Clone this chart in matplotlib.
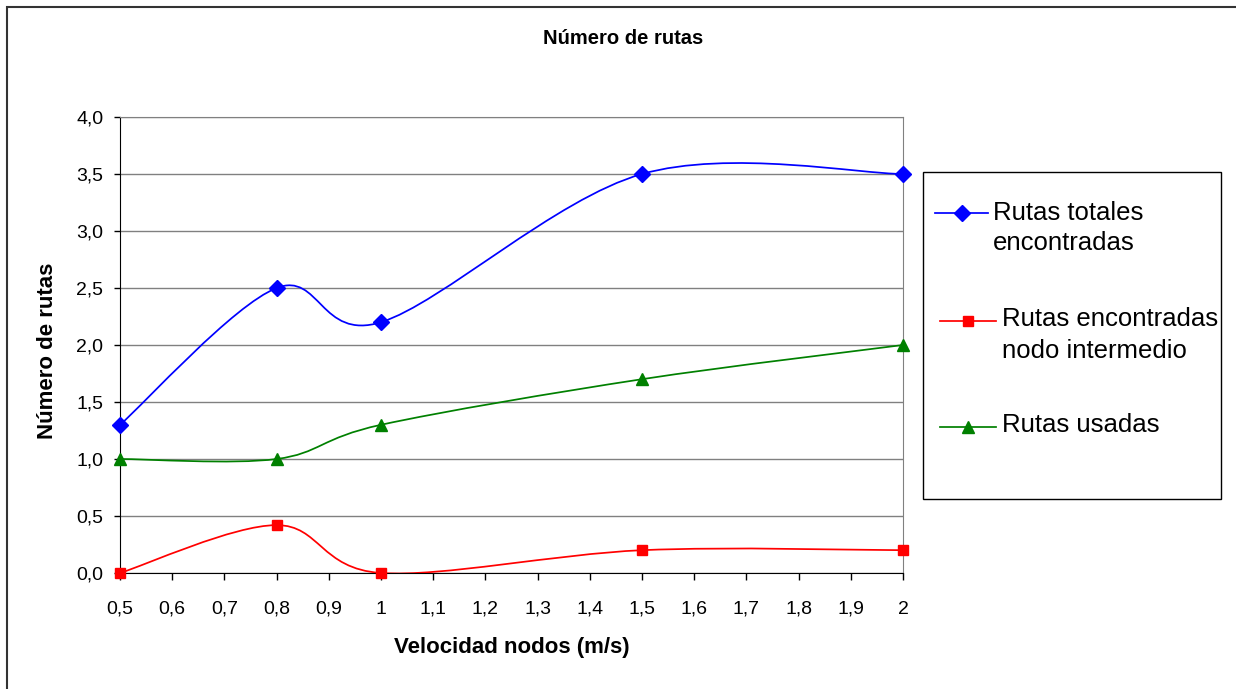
import numpy as np
import matplotlib
matplotlib.use('Agg')
import matplotlib.pyplot as plt
from matplotlib.path import Path
from matplotlib.patches import PathPatch, Rectangle
from matplotlib.lines import Line2D

plt.rcParams.update({
    'font.family': 'Liberation Sans',
    'font.size': 13,
})

# data
velocidad = [0.5, 0.8, 1.0, 1.5, 2.0]
rutas_totales = [1.3, 2.5, 2.2, 3.5, 3.5]
rutas_intermedio = [0.0, 0.42, 0.0, 0.2, 0.2]
rutas_usadas = [1.0, 1.0, 1.3, 1.7, 2.0]

series_names = ['Rutas totales\nencontradas',
                'Rutas encontradas\nnodo intermedio',
                'Rutas usadas']
x_ticks = [0.5, 0.6, 0.7, 0.8, 0.9, 1.0, 1.1, 1.2, 1.3, 1.4, 1.5, 1.6, 1.7, 1.8, 1.9, 2.0]
x_ticklabels = ['0,5', '0,6', '0,7', '0,8', '0,9', '1', '1,1', '1,2', '1,3', '1,4',
                '1,5', '1,6', '1,7', '1,8', '1,9', '2']
y_ticks = [0.0, 0.5, 1.0, 1.5, 2.0, 2.5, 3.0, 3.5, 4.0]
y_ticklabels = ['0,0', '0,5', '1,0', '1,5', '2,0', '2,5', '3,0', '3,5', '4,0']

W, H = 1236, 689


def fx(px):
    return px / W


def fy(py):
    return 1 - py / H


def smooth(xs, ys):
    # excel-like smoothed line: cubic bezier through the points
    pts = np.column_stack([xs, ys]).astype(float)
    n = len(pts)
    verts = [pts[0]]
    codes = [Path.MOVETO]
    for i in range(n - 1):
        p0 = pts[max(i - 1, 0)]
        p1 = pts[i]
        p2 = pts[i + 1]
        p3 = pts[min(i + 2, n - 1)]
        verts += [p1 + (p2 - p0) / 6, p2 - (p3 - p1) / 6, p2]
        codes += [Path.CURVE4] * 3
    return Path(verts, codes)


fig = plt.figure(figsize=(W / 100, H / 100), dpi=100)
ax = fig.add_axes([fx(120), fy(573), fx(903) - fx(120), fy(117) - fy(573)])

styles = [('#0000FF', 'D', 8.5), ('#FF0000', 's', 7.2), ('#008000', '^', 8.5)]
for ys, (c, m, ms) in zip([rutas_totales, rutas_intermedio, rutas_usadas], styles):
    ax.add_patch(PathPatch(smooth(velocidad, ys), fill=False, edgecolor=c, lw=1.25, zorder=3))
    ax.plot(velocidad, ys, ls='none', marker=m, ms=ms, color=c, clip_on=False, zorder=4)

ax.set_xlim(0.5, 2.0)
ax.set_ylim(0, 4.0)
ax.set_xticks(x_ticks)
ax.set_xticklabels(x_ticklabels)
ax.set_yticks(y_ticks)
ax.set_yticklabels(y_ticklabels)
ax.grid(axis='y', color='#808080', lw=1.0)
ax.set_axisbelow(True)
for s in ['top', 'right']:
    ax.spines[s].set_color('#808080')
ax.spines['left'].set_color('black')
ax.spines['bottom'].set_color('black')
ax.tick_params(axis='x', direction='out', length=5, width=1, pad=15, labelsize=14)
ax.tick_params(axis='y', direction='out', length=4, width=1, pad=8, labelsize=14)

ax.set_xlabel('Velocidad nodos (m/s)', fontsize=16, fontweight='bold')
ax.xaxis.set_label_coords(0.5, -(637 - 573) / 456)
ax.xaxis.label.set_va('top')
ax.set_ylabel('Número de rutas', fontsize=16, fontweight='bold')
ax.yaxis.set_label_coords((58 - 120) / 783, (573 - 351) / 456)

fig.text(fx(623), fy(44), 'Número de rutas', fontsize=14.5, fontweight='bold',
         ha='center', va='baseline')

# outer chart border
fig.add_artist(Rectangle((fx(7), -0.2), 1.2, fy(7) + 0.2, transform=fig.transFigure,
                         fill=False, edgecolor='#333333', lw=1.5))

# legend box drawn like excel
fig.add_artist(Rectangle((fx(923), fy(499)), fx(1221) - fx(923), fy(172) - fy(499),
                         transform=fig.transFigure, fill=False, edgecolor='black', lw=1.0))
leg_rows = [(213, 935, 988, 993, [220, 250]),
            (321, 940, 996, 1002, [326, 358]),
            (427, 940, 996, 1002, [432])]
for (yl, x0, x1, xt, bases), name, (c, m, ms) in zip(leg_rows, series_names, styles):
    fig.add_artist(Line2D([fx(x0), fx(x1)], [fy(yl), fy(yl)], color=c, lw=1.25,
                          transform=fig.transFigure))
    fig.add_artist(Line2D([fx((x0 + x1) / 2)], [fy(yl)], color=c, marker=m, ms=ms,
                          ls='none', transform=fig.transFigure))
    for line, b in zip(name.split('\n'), bases):
        fig.text(fx(xt), fy(b), line, fontsize=18.5, ha='left', va='baseline')

fig.savefig('out.png', dpi=100)
